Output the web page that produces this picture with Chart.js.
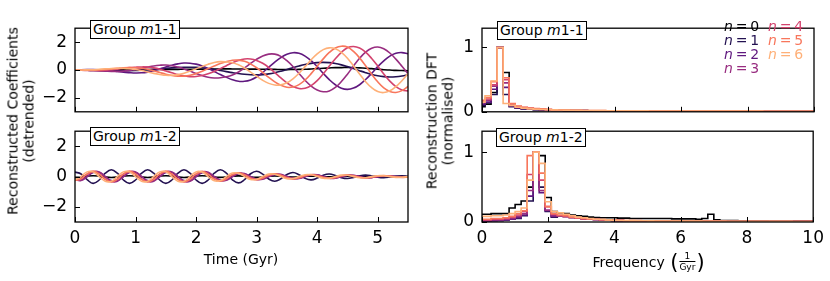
<!DOCTYPE html>
<html>
<head>
<meta charset="utf-8">
<script src="https://cdn.jsdelivr.net/npm/chart.js@4.4.1/dist/chart.umd.min.js"></script>
<style>
  html, body { margin: 0; padding: 0; background: #fff; }
  body { width: 830px; height: 281px; position: relative; overflow: hidden;
         font-family: "DejaVu Sans", sans-serif; color: #000; }
  canvas { position: absolute; }
  .box { position: absolute; border: 1.4px solid #000; background: #fff; font-size: 14px;
         line-height: 17px; padding: 0 2px; white-space: nowrap; }
  .ylab { position: absolute; transform: translate(-50%, -50%) rotate(-90deg); text-align: center;
          font-size: 14px; line-height: 15.5px; white-space: nowrap; }
  .xlab { position: absolute; transform: translate(-50%, -50%); font-size: 14px; line-height: 16px;
          white-space: nowrap; display: flex; align-items: center; }
  .leg { position: absolute; font-size: 14px; line-height: 14px; white-space: nowrap; }
  .paren { font-size: 21px; line-height: 22px; margin: 0 1px; }
  .frac { display: inline-flex; flex-direction: column; align-items: center; font-size: 9px; line-height: 9px; }
  .frac .den { border-top: 0.8px solid #000; padding-top: 1px; }
</style>
</head>
<body>
<canvas id="coef11"></canvas>
<canvas id="coef12"></canvas>
<canvas id="dft11"></canvas>
<canvas id="dft12"></canvas>

<div class="ylab" style="left:21px; top:121px;">Reconstructed Coefficients<br>(detrended)</div>
<div class="ylab" style="left:440px; top:121px;">Reconstruction DFT<br>(normalised)</div>
<div class="xlab" style="left:241px; top:259px;">Time (Gyr)</div>
<div class="xlab" style="left:649px; top:262px;">Frequency&nbsp;<span class="paren">(</span><span class="frac"><span>1</span><span class="den">Gyr</span></span><span class="paren">)</span></div>

<script>
// ---- data ----
const timeGyr = [0,0.1,0.2,0.3,0.4,0.5,0.6,0.7,0.8,0.9,1,1.1,1.2,1.3,1.4,1.5,1.6,1.7,1.8,1.9,
  2,2.1,2.2,2.3,2.4,2.5,2.6,2.7,2.8,2.9,3,3.1,3.2,3.3,3.4,3.5,3.6,3.7,3.8,3.9,
  4,4.1,4.2,4.3,4.4,4.5,4.6,4.7,4.8,4.9,5,5.1,5.2,5.3,5.4,5.5];

const freqBins = [0,0.182,0.364,0.545,0.727,0.909,1.091,1.273,1.455,1.636,1.818,2,2.182,2.364,
  2.545,2.727,2.909,3.091,3.273,3.455,3.636,3.818,4,4.182,4.364,4.545,4.727,4.909,5.091,5.273,
  5.455,5.636,5.818,6,6.182,6.364,6.545,6.727,6.909,7.091,7.273,7.455,7.636,7.818,8,8.182,8.364,
  8.545,8.727,8.909,9.091,9.273,9.455,9.636,9.818,10];

const nValues = ["0", "1", "2", "3", "4", "5", "6"];
const groupNames = ["1-1", "1-2"];

const timeTicks = [0, 1, 2, 3, 4, 5];
const coefTicks = [-2, 0, 2];
const freqTicks = [0, 2, 4, 6, 8, 10];
const dftTicks = [0, 1];

// group m1-1, reconstructed coefficients
const coef11_n0 = [0,.002,.004,.006,.008,.01,.012,.014,.016,.018,.02,.024,.028,.032,.036,.04,.044,.048,.052,.056,
  .06,.064,.068,.072,.076,.08,.076,.072,.068,.064,.06,.054,.048,.042,.036,.03,.037,.043,.05,.075,
  .1,.123,.147,.17,.173,.177,.18,.153,.127,.1,.06,.02,-.005,-.03,-.04,-.05];
const coef11_n1 = [0,-.01,-.02,-.03,-.04,-.05,-.055,-.06,-.06,-.055,-.04,-.015,.016,.052,.088,.124,.155,.179,.195,.2,
  .189,.156,.105,.039,-.036,-.114,-.189,-.255,-.306,-.339,-.35,-.332,-.278,-.195,-.087,.036,.164,.287,.395,.478,
  .532,.55,.528,.467,.369,.243,.1,-.05,-.193,-.319,-.417,-.478,-.5,-.482,-.428,-.345];
const coef11_n2 = [0,.02,.03,.03,.01,-.02,-.06,-.11,-.16,-.19,-.21,-.2,-.15,-.06,.07,.21,.34,.44,.5,.49,
  .42,.29,.1,-.11,-.33,-.52,-.7,-.81,-.81,-.71,-.5,-.18,.19,.56,.89,1.13,1.24,1.2,1,.67,
  .24,-.24,-.69,-1.06,-1.31,-1.39,-1.3,-1.06,-.68,-.24,.24,.66,1,1.2,1.25,1.16];
const coef11_n3 = [0,0,-.02,-.04,-.06,-.08,-.1,-.1,-.08,-.03,.03,.12,.21,.29,.34,.36,.31,.21,.08,-.08,
  -.25,-.4,-.52,-.57,-.56,-.49,-.36,-.14,.15,.47,.77,1.01,1.14,1.14,.98,.67,.25,-.25,-.74,-1.15,
  -1.43,-1.56,-1.5,-1.25,-.83,-.3,.29,.84,1.28,1.56,1.65,1.52,1.22,.78,.27,-.26];
const coef11_n4 = [0,-.02,-.03,-.04,-.03,-.01,.02,.06,.12,.17,.2,.22,.21,.15,.06,-.07,-.2,-.33,-.42,-.48,
  -.47,-.4,-.27,-.1,.1,.31,.52,.69,.79,.79,.69,.48,.18,-.19,-.57,-.92,-1.19,-1.33,-1.31,-1.12,
  -.76,-.27,.28,.81,1.27,1.6,1.69,1.58,1.28,.83,.29,-.28,-.8,-1.19,-1.44,-1.5];
const coef11_n5 = [0,-.01,-.02,-.01,.01,.04,.08,.12,.16,.17,.16,.12,.05,-.06,-.18,-.3,-.39,-.44,-.44,-.38,
  -.26,-.09,.1,.29,.47,.6,.7,.71,.62,.43,.16,-.17,-.53,-.85,-1.1,-1.24,-1.22,-1.05,-.72,-.26,
  .27,.8,1.26,1.58,1.71,1.65,1.33,.87,.3,-.3,-.85,-1.28,-1.54,-1.61,-1.48,-1.18];
const coef11_n6 = [0,0,.01,.02,.05,.08,.1,.12,.12,.09,.03,-.04,-.14,-.24,-.32,-.38,-.38,-.33,-.23,-.08,
  .09,.26,.42,.54,.6,.58,.52,.37,.14,-.15,-.45,-.74,-.96,-1.08,-1.07,-.92,-.63,-.23,.24,.73,
  1.16,1.46,1.59,1.53,1.27,.85,.29,-.29,-.84,-1.27,-1.55,-1.62,-1.49,-1.19,-.77,-.26];

// group m1-2, reconstructed coefficients
const coef12_n0 = [-.05,-.03,.03,.06,.03,-.03,-.06,-.03,.03,.06,.03,-.03,-.06,-.03,.03,.06,.03,-.03,
  -.06,-.03,.03,.06,.03,-.03,-.05,-.025,.025,.05,.025,-.025,-.04,-.02,.02,.04,.02,-.02,
  -.03,-.015,.015,.03,.015,-.015,-.02,-.01,.01,.02,.01,-.01,-.02,-.01,.01,.02,.01,-.01,-.01,0];
const coef12_n1 = [.3,.175,-.2,-.45,-.225,.225,.45,.225,-.225,-.45,-.225,.225,.45,.225,-.225,-.45,-.225,.225,
  .45,.225,-.225,-.45,-.225,.225,.45,.225,-.215,-.415,-.2,.188,.35,.168,-.16,-.305,-.145,.14,
  .27,.125,-.115,-.215,-.1,.093,.17,.078,-.07,-.125,-.055,.053,.1,.045,-.04,-.075,-.035,.033,.06,.025];
const coef12_n2 = [-.184,-.221,0,.265,.265,0,-.265,-.265,0,.265,.265,0,-.265,-.265,0,.265,.265,0,
  -.265,-.265,0,.254,.243,0,-.221,-.21,0,.188,.177,0,-.155,-.147,0,.133,.125,0,
  -.11,-.107,0,.099,.096,0,-.088,-.087,0,.08,.074,0,-.063,-.058,0,.048,.044,0,-.037,-.037];
const coef12_n3 = [-.217,-.26,0,.312,.312,0,-.312,-.312,0,.312,.312,0,-.312,-.312,0,.312,.312,0,
  -.312,-.312,0,.299,.286,0,-.26,-.247,0,.221,.208,0,-.182,-.173,0,.156,.147,0,
  -.13,-.126,0,.117,.113,0,-.104,-.102,0,.094,.087,0,-.074,-.068,0,.056,.052,0,-.043,-.043];
const coef12_n4 = [-.225,-.135,.162,.324,.162,-.162,-.324,-.162,.162,.324,.162,-.162,-.324,-.162,.162,.324,.162,-.162,
  -.324,-.162,.162,.31,.149,-.142,-.27,-.129,.122,.23,.108,-.102,-.189,-.09,.086,.162,.077,-.072,
  -.135,-.066,.063,.122,.059,-.057,-.108,-.053,.052,.097,.045,-.042,-.077,-.035,.032,.059,.027,-.025,-.045,-.023];
const coef12_n5 = [-.25,-.15,.18,.36,.18,-.18,-.36,-.18,.18,.36,.18,-.18,-.36,-.18,.18,.36,.18,-.18,
  -.36,-.18,.18,.345,.165,-.158,-.3,-.143,.135,.255,.12,-.113,-.21,-.1,.095,.18,.085,-.08,
  -.15,-.073,.07,.135,.065,-.063,-.12,-.059,.058,.108,.05,-.047,-.085,-.039,.035,.065,.03,-.028,-.05,-.025];
const coef12_n6 = [-.217,0,.312,.312,0,-.312,-.312,0,.312,.312,0,-.312,-.312,0,.312,.312,0,-.312,
  -.312,0,.312,.299,0,-.273,-.26,0,.234,.221,0,-.195,-.182,0,.165,.156,0,-.139,
  -.13,0,.121,.117,0,-.108,-.104,0,.1,.094,0,-.081,-.074,0,.061,.056,0,-.048,-.043,0];

// DFT tails (bins 12..55 for m1-1, 13..55 for m1-2)
const tail11_low = [.022,.02,.018,.017,.016,.015,.014,.013,.012,.011,.011,.01,.01,.009,.009,.009,.008,.008,.008,.007,
  .007,.007,.007,.006,.006,.006,.006,.006,.005,.005,.005,.005,.005,.005,.005,.004,.004,.004,.004,.004,.004,.004,.004,.004];
const tail11_mid = [.026,.024,.022,.02,.019,.018,.017,.016,.015,.014,.013,.013,.012,.012,.011,.011,.01,.01,.01,.009,
  .009,.009,.009,.008,.008,.008,.008,.008,.007,.007,.007,.007,.007,.007,.007,.006,.006,.006,.006,.006,.006,.006,.006,.006];
const tail11_high = [.03,.028,.026,.024,.022,.021,.02,.019,.018,.017,.016,.016,.015,.015,.014,.014,.013,.013,.013,.012,
  .012,.012,.012,.011,.011,.011,.011,.011,.01,.01,.01,.01,.01,.01,.01,.009,.009,.009,.009,.009,.009,.009,.009,.009];
const tail12_black = [.13,.12,.1,.09,.08,.07,.065,.06,.06,.06,.055,.055,.05,.05,.05,.05,.05,.05,.05,.045,
  .045,.045,.045,.04,.05,.11,.03,.02,.02,.02,.018,.018,.017,.016,.016,.015,.015,.014,.014,.013,.013,.012,.012];
const tail12_peach = [.13,.11,.09,.07,.06,.05,.04,.035,.03,.025,.022,.02,.019,.018,.017,.016,.015,.014,.014,.013,
  .013,.012,.012,.012,.011,.011,.011,.011,.01,.01,.01,.01,.01,.009,.009,.009,.009,.009,.009,.008,.008,.008,.008];
const tail12_red = [.1,.09,.07,.06,.05,.045,.04,.035,.03,.027,.024,.022,.02,.019,.018,.017,.016,.015,.015,.014,
  .014,.013,.013,.013,.012,.012,.012,.012,.011,.011,.011,.011,.011,.01,.01,.01,.01,.01,.01,.01,.01,.01,.01];
const tail12_low = [.09,.08,.065,.055,.045,.04,.035,.03,.026,.023,.02,.018,.016,.015,.014,.013,.012,.012,.011,.011,
  .01,.01,.01,.009,.009,.009,.009,.008,.008,.008,.008,.008,.007,.007,.007,.007,.007,.007,.007,.006,.006,.006,.006];

const dft11_n0 = [.08,.12,.3,1,.61,.1,.06,.05,.04,.035,.03,.028, ...tail11_mid];
const dft11_n1 = [.1,.14,.27,1,.27,.08,.06,.05,.04,.033,.028,.025, ...tail11_low];
const dft11_n2 = [.12,.15,.35,1,.38,.09,.06,.05,.043,.037,.031,.026, ...tail11_low];
const dft11_n3 = [.14,.18,.4,1,.45,.11,.07,.06,.05,.043,.037,.031, ...tail11_mid];
const dft11_n4 = [.16,.2,.42,1,.5,.12,.08,.065,.055,.048,.041,.035, ...tail11_mid];
const dft11_n5 = [.18,.22,.47,1,.53,.13,.09,.07,.06,.052,.045,.038, ...tail11_high];
const dft11_n6 = [.15,.25,.48,1,.13,.1,.07,.055,.045,.04,.035,.032, ...tail11_high];

const dft12_n0 = [.11,.11,.12,.12,.12,.2,.25,.3,.5,1,.95,.35,.15, ...tail12_black];
const dft12_n1 = [.01,.01,.02,.02,.03,.04,.05,.09,.3,1,.5,.15,.07, ...tail12_low];
const dft12_n2 = [.01,.02,.02,.03,.03,.04,.06,.1,.37,1,.42,.16,.08, ...tail12_low];
const dft12_n3 = [.02,.02,.03,.03,.04,.05,.08,.12,.45,1,.45,.17,.09, ...tail12_low];
const dft12_n4 = [.03,.03,.04,.04,.05,.07,.1,.15,.68,1,.6,.22,.11, ...tail12_low];
const dft12_n5 = [.04,.04,.05,.05,.06,.08,.12,.16,.95,1,.7,.22,.12, ...tail12_red];
const dft12_n6 = [.08,.08,.09,.09,.1,.12,.15,.2,.6,1,.84,.29,.15, ...tail12_peach];

// magma colours, n = 0..6
const nColors = ["#000004", "#231151", "#5f187f", "#982d80", "#d3436e", "#f8765c", "#feb078"];

// ---- layout ----
const PAD_TOP = 10, PAD_RIGHT = 16, PAD_BOTTOM = 12, YAXIS_W = 50, XAXIS_H = 30;

function fmtTick(v) {
  return v < 0 ? "\u2212" + Math.abs(v) : String(v);
}

const framePlugin = {
  id: "frame",
  afterDatasetsDraw(chart, args, opts) {
    const ctx = chart.ctx;
    const a = chart.chartArea;
    const xs = chart.scales.x, ys = chart.scales.y;
    ctx.save();
    ctx.strokeStyle = "#000";
    ctx.lineWidth = 1;
    ctx.beginPath();
    opts.xTicks.forEach(v => {
      const px = Math.round(xs.getPixelForValue(v)) + 0.5;
      ctx.moveTo(px, a.bottom);
      ctx.lineTo(px, a.bottom - 5);
    });
    opts.yTicks.forEach(v => {
      const py = Math.round(ys.getPixelForValue(v)) + 0.5;
      ctx.moveTo(a.left, py);
      ctx.lineTo(a.left + 5, py);
    });
    ctx.stroke();
    ctx.lineWidth = 1.3;
    ctx.strokeRect(a.left, a.top, a.right - a.left, a.bottom - a.top);
    ctx.restore();
  }
};

function makePanel(id, area, xMin, xMax, yMin, yMax, xTicks, yTicks, showX, datasets) {
  const cv = document.getElementById(id);
  const w = area.x1 - area.x0 + YAXIS_W + PAD_RIGHT;
  const h = area.y1 - area.y0 + PAD_TOP + PAD_BOTTOM + (showX ? XAXIS_H : 0);
  cv.width = w; cv.height = h;
  cv.style.width = w + "px"; cv.style.height = h + "px";
  cv.style.left = (area.x0 - YAXIS_W) + "px";
  cv.style.top = (area.y0 - PAD_TOP) + "px";
  return new Chart(cv, {
    type: "line",
    data: { datasets: datasets },
    plugins: [framePlugin],
    options: {
      responsive: false,
      animation: false,
      events: [],
      layout: { padding: { left: 0, right: PAD_RIGHT, top: PAD_TOP, bottom: PAD_BOTTOM } },
      plugins: { legend: { display: false }, tooltip: { enabled: false },
                 frame: { xTicks: xTicks, yTicks: yTicks } },
      scales: {
        x: {
          type: "linear", min: xMin, max: xMax, bounds: "data",
          afterBuildTicks: s => { s.ticks = xTicks.map(v => ({ value: v })); },
          afterFit: s => { s.height = showX ? XAXIS_H : 0; },
          grid: { display: false, drawTicks: false },
          border: { display: false },
          ticks: { display: showX, color: "#000", font: { size: 17 }, padding: 6,
                   maxRotation: 0, autoSkip: false, callback: fmtTick }
        },
        y: {
          type: "linear", min: yMin, max: yMax, bounds: "data",
          afterBuildTicks: s => { s.ticks = yTicks.map(v => ({ value: v })); },
          afterFit: s => { s.width = YAXIS_W; },
          grid: { display: false, drawTicks: false },
          border: { display: false },
          ticks: { color: "#000", font: { size: 17 }, padding: 8, autoSkip: false, callback: fmtTick }
        }
      }
    }
  });
}

function lineSets(seriesList) {
  return seriesList.map((vals, n) => ({
    data: timeGyr.map((t, i) => ({ x: t, y: vals[i] })),
    borderColor: nColors[n], borderWidth: 1.6, pointRadius: 0, tension: 0.4,
    fill: false, order: 6 - n
  }));
}

function stepSets(seriesList) {
  return seriesList.map((vals, n) => ({
    data: freqBins.map((f, i) => ({ x: f, y: vals[i] })),
    borderColor: nColors[n], borderWidth: 1.6, pointRadius: 0, stepped: "middle",
    fill: false, order: 6 - n
  }));
}

Chart.defaults.font.family = "'DejaVu Sans', sans-serif";
Chart.defaults.color = "#000";

makePanel("coef11", { x0: 75, y0: 20, x1: 408, y1: 118 }, 0, 5.5, -3, 3, timeTicks, coefTicks, false,
  lineSets([coef11_n0, coef11_n1, coef11_n2, coef11_n3, coef11_n4, coef11_n5, coef11_n6]));
makePanel("coef12", { x0: 75, y0: 123, x1: 408, y1: 222 }, 0, 5.5, -3, 3, timeTicks, coefTicks, true,
  lineSets([coef12_n0, coef12_n1, coef12_n2, coef12_n3, coef12_n4, coef12_n5, coef12_n6]));
makePanel("dft11", { x0: 482, y0: 20, x1: 814, y1: 118 }, 0, 10, 0, 1.3, freqTicks, dftTicks, false,
  stepSets([dft11_n0, dft11_n1, dft11_n2, dft11_n3, dft11_n4, dft11_n5, dft11_n6]));
makePanel("dft12", { x0: 482, y0: 123, x1: 814, y1: 222 }, 0, 10, 0, 1.3, freqTicks, dftTicks, true,
  stepSets([dft12_n0, dft12_n1, dft12_n2, dft12_n3, dft12_n4, dft12_n5, dft12_n6]));

// group labels
const boxSpots = [[90, 20], [90, 127], [497, 21], [496, 128]];
boxSpots.forEach((p, i) => {
  const d = document.createElement("div");
  d.className = "box";
  d.style.left = p[0] + "px";
  d.style.top = p[1] + "px";
  d.innerHTML = "Group <i>m</i>" + groupNames[i % 2];
  document.body.appendChild(d);
});

// legend n = 0..6
nValues.forEach((v, n) => {
  const d = document.createElement("div");
  d.className = "leg";
  d.style.color = nColors[n];
  d.style.left = (n < 4 ? 724 : 768) + "px";
  d.style.top = (19 + (n % 4) * 14) + "px";
  d.innerHTML = "<i>n</i>\u2009=\u2009" + v;
  document.body.appendChild(d);
});
</script>
</body>
</html>
